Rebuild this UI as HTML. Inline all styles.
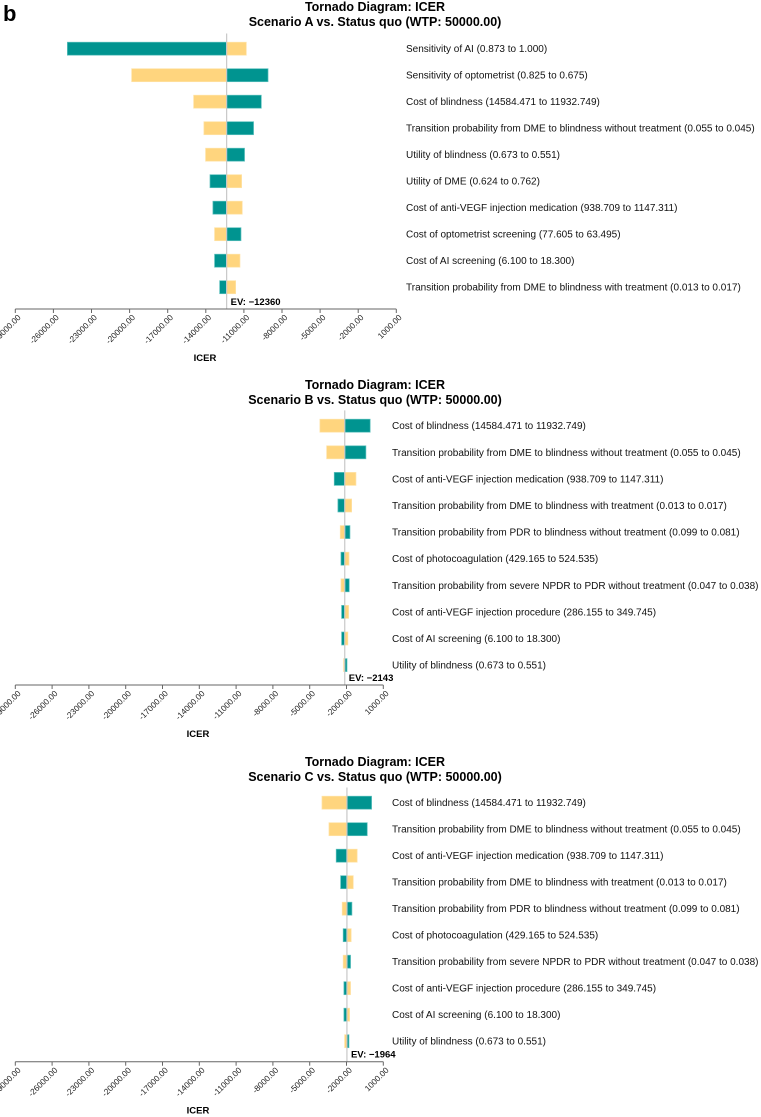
<!DOCTYPE html>
<html><head><meta charset="utf-8"><style>
html,body{margin:0;padding:0;background:#fff;}
svg{display:block;font-family:"Liberation Sans",sans-serif;}
</style></head><body>
<svg id="root" width="761" height="1117" viewBox="0 0 761 1117">
<text x="3" y="21" font-size="22" font-weight="bold">b</text>
</svg>
<script>
// Shared axis ticks
const tickValues = [-29000,-26000,-23000,-20000,-17000,-14000,-11000,-8000,-5000,-2000,1000];
const tickLabels = ["-29000.00","-26000.00","-23000.00","-20000.00","-17000.00","-14000.00","-11000.00","-8000.00","-5000.00","-2000.00","1000.00"];

// Scenario A
const labelsA = ["Sensitivity of AI (0.873 to 1.000)","Sensitivity of optometrist (0.825 to 0.675)","Cost of blindness (14584.471 to 11932.749)","Transition probability from DME to blindness without treatment (0.055 to 0.045)","Utility of blindness (0.673 to 0.551)","Utility of DME (0.624 to 0.762)","Cost of anti-VEGF injection medication (938.709 to 1147.311)","Cost of optometrist screening (77.605 to 63.495)","Cost of AI screening (6.100 to 18.300)","Transition probability from DME to blindness with treatment (0.013 to 0.017)"];
const leftA = [-24900,-19840,-14960,-14150,-14020,-13670,-13440,-13310,-13310,-12910];
const rightA = [-10810,-9100,-9630,-10240,-10950,-11180,-11130,-11230,-11310,-11650];
const leftTealA = [true,false,false,false,false,true,true,false,true,true];
const evA = -12360;

// Scenario B
const labelsB = ["Cost of blindness (14584.471 to 11932.749)","Transition probability from DME to blindness without treatment (0.055 to 0.045)","Cost of anti-VEGF injection medication (938.709 to 1147.311)","Transition probability from DME to blindness with treatment (0.013 to 0.017)","Transition probability from PDR to blindness without treatment (0.099 to 0.081)","Cost of photocoagulation (429.165 to 524.535)","Transition probability from severe NPDR to PDR without treatment (0.047 to 0.038)","Cost of anti-VEGF injection procedure (286.155 to 349.745)","Cost of AI screening (6.100 to 18.300)","Utility of blindness (0.673 to 0.551)"];
const leftB = [-4170,-3620,-3000,-2700,-2510,-2450,-2450,-2400,-2400,-2240];
const rightB = [-70,-420,-1230,-1580,-1720,-1800,-1780,-1830,-1890,-1960];
const leftTealB = [false,false,true,true,false,true,false,true,true,false];
const evB = -2143;

// Scenario C
const labelsC = labelsB.slice();
const leftC = [-4000,-3430,-2840,-2480,-2350,-2270,-2270,-2210,-2210,-2155];
const rightC = [45,-310,-1130,-1450,-1560,-1620,-1670,-1670,-1750,-1800];
const leftTealC = [false,false,true,true,false,true,false,true,true,false];
const evC = -1964;

const NS="http://www.w3.org/2000/svg";
const root=document.getElementById('root');
function mk(tag,attrs,parent){const e=document.createElementNS(NS,tag);for(const k in attrs)e.setAttribute(k,attrs[k]);(parent||root).appendChild(e);return e;}

function drawChart(key,title2,labels,lefts,rights,leftTeal,ev,L){
  const g=mk('g',{});
  
  
  const xs=v=>L.x0+(v-tickValues[0])/(tickValues[tickValues.length-1]-tickValues[0])*(L.x1-L.x0);
  const t1=mk('text',{x:L.tx,y:L.ty,'text-anchor':'middle','font-size':12.5,'font-weight':'bold'},g);
  t1.textContent='Tornado Diagram: ICER';
  
  
  const t2=mk('text',{x:L.tx,y:L.ty+15,'text-anchor':'middle','font-size':12.5,'font-weight':'bold'},g);
  t2.textContent=title2;
  
  
  const teal='#009490',yel='#FFD57E';
  for(let i=0;i<labels.length;i++){
    const cy=L.row0+i*L.step;
    const xe=xs(ev);
    const a=xs(lefts[i]),b=xs(rights[i]);
    const r1=mk('rect',{x:a,y:cy-6.5,width:Math.max(0,xe-a),height:13,fill:leftTeal[i]?teal:yel,stroke:leftTeal[i]?'#5cc0bd':'#ffe3a8','stroke-width':0.7},g);
    
    
    const r2=mk('rect',{x:xe,y:cy-6.5,width:Math.max(0,b-xe),height:13,fill:leftTeal[i]?yel:teal,stroke:leftTeal[i]?'#ffe3a8':'#5cc0bd','stroke-width':0.7},g);
    
    
    const lt=mk('text',{x:L.lx,y:cy+3.5,'font-size':10,fill:'#111'},g);
    lt.textContent=labels[i];
    
    
  }
  const xe=xs(ev);
  const el=mk('line',{x1:xe,x2:xe,y1:L.row0-L.step/2-2,y2:L.ay,stroke:'#c8c8c8','stroke-width':1.2},g);
  
  
  const et=mk('text',{x:xe+4,y:L.ay-4,'font-size':9.5,'font-weight':'bold'},g);
  et.textContent='EV: \u2212'+Math.abs(ev);
  
  
  const ax=mk('line',{x1:L.x0,x2:L.x1,y1:L.ay,y2:L.ay,stroke:'#666','stroke-width':1},g);
  
  
  for(let i=0;i<tickValues.length;i++){
    const x=xs(tickValues[i]);
    const tk=mk('line',{x1:x,x2:x,y1:L.ay,y2:L.ay+4,stroke:'#666','stroke-width':1},g);
    
    
    const tl=mk('text',{x:x+6,y:L.ay+9,'font-size':8.3,'text-anchor':'end',fill:'#222',transform:`rotate(-45 ${x+6} ${L.ay+9})`},g);
    tl.textContent=tickLabels[i];
    
    
  }
  const xt=mk('text',{x:L.xtx,y:L.ay+52,'font-size':9.5,'font-weight':'bold','text-anchor':'middle'},g);
  xt.textContent='ICER';
  
  
}
drawChart('a','Scenario A vs. Status quo (WTP: 50000.00)',labelsA,leftA,rightA,leftTealA,evA,
  {x0:15.3,x1:396.3,ay:309,row0:48.7,step:26.5,lx:406,tx:375,ty:11,xtx:205});
drawChart('b','Scenario B vs. Status quo (WTP: 50000.00)',labelsB,leftB,rightB,leftTealB,evB,
  {x0:15.3,x1:383.3,ay:685,row0:425.7,step:26.6,lx:392,tx:375,ty:389,xtx:198});
drawChart('c','Scenario C vs. Status quo (WTP: 50000.00)',labelsC,leftC,rightC,leftTealC,evC,
  {x0:15.3,x1:383.3,ay:1061.7,row0:802.7,step:26.5,lx:392,tx:375,ty:766,xtx:198});
</script>
</body></html>
